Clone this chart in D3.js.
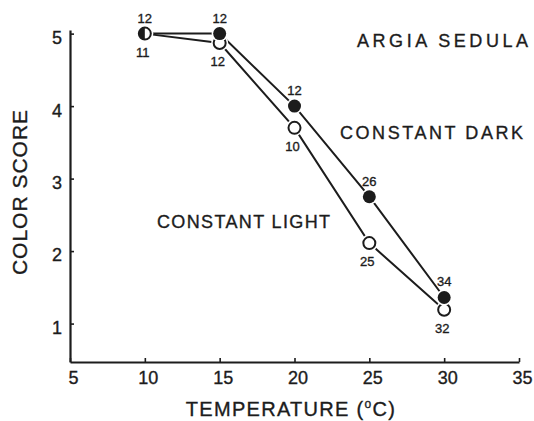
<!DOCTYPE html>
<html>
<head>
<meta charset="utf-8">
<script src="https://cdn.jsdelivr.net/npm/d3@7.9.0/dist/d3.min.js"></script>
<style>
  body { margin: 0; background: #fff; }
  svg { display: block; font-family: "Liberation Sans", Arial, sans-serif; }
  text { fill: #1c1c1c; stroke: #1c1c1c; stroke-width: 0.35px; }
</style>
</head>
<body>
<svg width="534" height="421"></svg>
<script>
// temperatures (deg C) and mean colour scores
const temps = [10, 15, 20, 25, 30];
const darkScore = [5.0, 5.0, 4.0, 2.75, 1.36];
const lightScore = [5.0, 4.87, 3.7, 2.11, 1.19];
// sample sizes printed beside each point
const darkN = ["12", "12", "12", "26", "34"];
const lightN = ["11", "12", "10", "25", "32"];
const xTicks = [5, 10, 15, 20, 25, 30, 35];
const yTicks = [1, 2, 3, 4, 5];

const ink = "#1c1c1c";
const svg = d3.select("svg");

const x = d3.scaleLinear().domain([5, 35]).range([70, 519]);
const y = d3.scaleLinear().domain([0.47, 5.05]).range([362, 30]);

// axes: ticks point inward, no domain end caps
const xAxis = d3.axisBottom(x).tickValues(xTicks).tickFormat(d3.format("d"))
  .tickSizeInner(-4).tickSizeOuter(0).tickPadding(9);
const yAxis = d3.axisLeft(y).tickValues(yTicks).tickFormat(d3.format("d"))
  .tickSizeInner(-4).tickSizeOuter(0).tickPadding(8);

const gx = svg.append("g").attr("transform", "translate(0,362)").call(xAxis);
const gy = svg.append("g").attr("transform", "translate(70,0)").call(yAxis);

[gx, gy].forEach((g) => {
  g.select(".domain").attr("stroke", ink).attr("stroke-width", 2.2);
  g.selectAll(".tick line").attr("stroke", ink).attr("stroke-width", 1.6);
  g.selectAll(".tick text")
    .attr("font-size", 18)
    .attr("font-family", "Liberation Sans, Arial, sans-serif")
    .attr("fill", ink);
});
gx.selectAll(".tick text").attr("dx", 3);
gy.selectAll(".tick text").attr("dy", "0.55em");

// lines
const pts = (scores) => temps.map((t, i) => [x(t), y(scores[i])]);
const line = d3.line();

svg.append("path")
  .attr("d", line(pts(lightScore)))
  .attr("fill", "none").attr("stroke", ink).attr("stroke-width", 2);
svg.append("path")
  .attr("d", line(pts(darkScore)))
  .attr("fill", "none").attr("stroke", ink).attr("stroke-width", 2);

const r = 6;

// light (open) markers, with a white halo that breaks the lines
svg.append("g").selectAll("circle")
  .data(temps)
  .join("circle")
  .attr("cx", (d) => x(d))
  .attr("cy", (d, i) => y(lightScore[i]))
  .attr("r", r + 2.5)
  .attr("fill", "#fff");
svg.append("g").selectAll("circle")
  .data(temps)
  .join("circle")
  .attr("cx", (d) => x(d))
  .attr("cy", (d, i) => y(lightScore[i]))
  .attr("r", r)
  .attr("fill", "#fff")
  .attr("stroke", ink)
  .attr("stroke-width", 2);

// dark (filled) markers; where both series coincide draw a half-filled one
temps.forEach((t, i) => {
  const cx = x(t), cy = y(darkScore[i]);
  if (darkScore[i] === lightScore[i]) {
    const half = d3.arc().innerRadius(0).outerRadius(r)
      .startAngle(Math.PI).endAngle(2 * Math.PI);
    svg.append("path")
      .attr("transform", `translate(${cx},${cy})`)
      .attr("d", half())
      .attr("fill", ink);
  } else {
    svg.append("circle")
      .attr("cx", cx).attr("cy", cy).attr("r", r + 2)
      .attr("fill", "#fff");
    svg.append("circle")
      .attr("cx", cx).attr("cy", cy).attr("r", r + 0.5)
      .attr("fill", ink);
  }
});

// sample sizes
svg.append("g").selectAll("text")
  .data(temps)
  .join("text")
  .attr("x", (d) => x(d))
  .attr("y", (d, i) => y(darkScore[i]) - 11)
  .attr("text-anchor", "middle")
  .attr("font-size", 13)
  .text((d, i) => darkN[i]);
svg.append("g").selectAll("text")
  .data(temps)
  .join("text")
  .attr("x", (d) => x(d) - 2)
  .attr("y", (d, i) => y(lightScore[i]) + 23)
  .attr("text-anchor", "middle")
  .attr("font-size", 13)
  .text((d, i) => lightN[i]);

// annotations
const note = (txt, x0, base, w) =>
  svg.append("text")
    .attr("x", x0).attr("y", base)
    .attr("font-size", 18)
    .attr("textLength", w)
    .attr("lengthAdjust", "spacing")
    .text(txt);
note("ARGIA SEDULA", 357, 47, 171);
note("CONSTANT DARK", 340, 139, 183);
note("CONSTANT LIGHT", 157, 228, 173);

// axis titles
const xt = svg.append("text")
  .attr("x", 291).attr("y", 416)
  .attr("text-anchor", "middle")
  .attr("font-size", 20)
  .attr("letter-spacing", 1.3);
xt.append("tspan").text("TEMPERATURE (");
xt.append("tspan").attr("font-size", 12).attr("dy", -8).text("o");
xt.append("tspan").attr("dy", 8).text("C)");

svg.append("text")
  .attr("transform", "translate(27,192) rotate(-90)")
  .attr("text-anchor", "middle")
  .attr("font-size", 21)
  .attr("letter-spacing", 1)
  .text("COLOR SCORE");
</script>
</body>
</html>
